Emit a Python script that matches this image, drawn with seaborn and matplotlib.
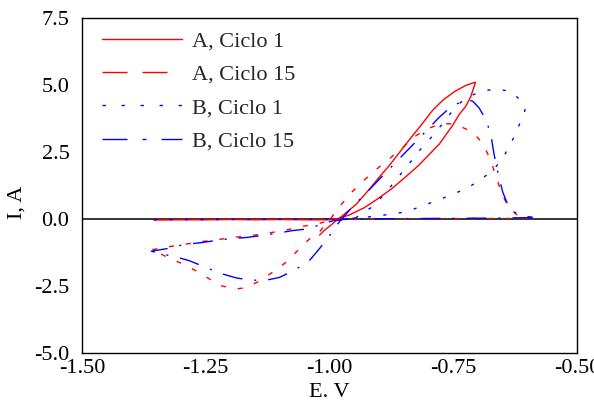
import numpy as np
import pandas as pd
import matplotlib
matplotlib.use("Agg")
import matplotlib.pyplot as plt
from matplotlib.lines import Line2D
from matplotlib.ticker import MultipleLocator, FormatStrFormatter
import seaborn as sns

# ---- data ----
series_names = ["A, Ciclo 1", "A, Ciclo 15", "B, Ciclo 1", "B, Ciclo 15"]

a1_E = [-1.355, -1.30, -1.25, -1.20, -1.15, -1.10, -1.05, -1.00, -0.98, -0.96, -0.93,
        -0.906, -0.875, -0.845, -0.82, -0.798, -0.778, -0.751, -0.738, -0.725, -0.715,
        -0.705, -0.708, -0.725, -0.746, -0.77, -0.792, -0.815, -0.839, -0.86, -0.879,
        -0.90, -0.92, -0.946, -0.97, -0.994, -1.01, -1.02]
a1_I = [-0.04, -0.03, -0.03, -0.02, -0.03, -0.02, -0.03, -0.03, 0.03, 0.15, 0.42,
        0.71, 1.12, 1.59, 2.0, 2.42, 2.8, 3.5, 3.9, 4.2, 4.55,
        5.10, 5.09, 4.98, 4.77, 4.45, 4.05, 3.5, 2.95, 2.45, 2.0,
        1.55, 1.1, 0.55, 0.18, -0.18, -0.42, -0.60]

a15_E = [-0.60, -0.70, -0.80, -0.90, -0.97, -1.00, -1.007, -1.03, -1.06, -1.089, -1.122,
         -1.151, -1.19, -1.231, -1.265, -1.294, -1.33, -1.36, -1.349, -1.33, -1.302,
         -1.272, -1.245, -1.22, -1.198, -1.185, -1.171, -1.145, -1.116, -1.089, -1.065,
         -1.042, -1.02, -1.0, -0.98, -0.954, -0.93, -0.906, -0.879, -0.85, -0.83,
         -0.805, -0.775, -0.75, -0.735, -0.72, -0.705, -0.692, -0.676, -0.664, -0.652,
         -0.637, -0.617, -0.605]
a15_I = [0.02, 0.02, 0.01, 0.0, -0.02, -0.05, -0.1, -0.2, -0.29, -0.42, -0.52,
         -0.6, -0.68, -0.78, -0.86, -0.95, -1.05, -1.15, -1.22, -1.41, -1.63,
         -1.91, -2.21, -2.49, -2.57, -2.6, -2.57, -2.35, -2.0, -1.63, -1.19,
         -0.77, -0.47, -0.05, 0.46, 1.02, 1.45, 1.84, 2.25, 2.7, 3.05,
         3.34, 3.56, 3.55, 3.45, 3.32, 3.12, 2.86, 2.27, 1.61, 0.94,
         0.40, 0.09, 0.03]

b1_E = [-1.355, -1.25, -1.15, -1.05, -0.95, -0.935, -0.913, -0.887, -0.866, -0.842, -0.82,
        -0.797, -0.773, -0.755, -0.735, -0.715, -0.694, -0.665, -0.634, -0.615, -0.605,
        -0.607, -0.613, -0.628, -0.646, -0.668, -0.697, -0.722, -0.749, -0.78, -0.812,
        -0.845, -0.872, -0.90, -0.93, -0.96]
b1_I = [-0.02, -0.02, -0.01, -0.01, 0.0, 0.2, 0.46, 0.96, 1.46, 1.99, 2.52,
        2.99, 3.52, 3.95, 4.35, 4.6, 4.75, 4.86, 4.76, 4.45, 4.1,
        3.9, 3.67, 3.03, 2.4, 1.84, 1.44, 1.15, 0.94, 0.71, 0.49,
        0.27, 0.19, 0.12, 0.06, 0.02]

b15_E = [-0.59, -0.70, -0.80, -0.90, -0.96, -0.99, -1.01, -1.02, -1.044, -1.074, -1.115,
         -1.138, -1.168, -1.208, -1.259, -1.296, -1.326, -1.36, -1.349, -1.312, -1.284,
         -1.252, -1.222, -1.188, -1.16, -1.13, -1.101, -1.074, -1.057, -1.04, -1.02,
         -1.0, -0.98, -0.96, -0.925, -0.88, -0.83, -0.778, -0.76, -0.74, -0.722,
         -0.711, -0.698, -0.684, -0.674, -0.668, -0.663, -0.658, -0.65, -0.637, -0.62,
         -0.603, -0.59]
b15_I = [0.05, 0.03, 0.02, 0.01, 0.0, -0.05, -0.16, -0.22, -0.37, -0.43, -0.56,
         -0.62, -0.69, -0.75, -0.88, -0.96, -1.1, -1.2, -1.26, -1.41, -1.55,
         -1.79, -2.02, -2.2, -2.28, -2.29, -2.18, -1.94, -1.75, -1.54, -1.1,
         -0.62, -0.1, 0.32, 0.99, 1.85, 2.8, 3.8, 4.1, 4.32, 4.44,
         4.40, 4.15, 3.71, 3.15, 2.46, 2.0, 1.59, 1.0, 0.40, 0.18,
         0.09, 0.07]

x_ticks = [-1.50, -1.25, -1.00, -0.75, -0.50]
y_ticks = [-5.0, -2.5, 0.0, 2.5, 5.0, 7.5]

# ---- build long table ----
frames = []
for name, E, I in zip(series_names, [a1_E, a15_E, b1_E, b15_E], [a1_I, a15_I, b1_I, b15_I]):
    frames.append(pd.DataFrame({"E": E, "I": I, "serie": name, "order": np.arange(len(E))}))
df = pd.concat(frames, ignore_index=True)

sns.set_theme(style="white")
plt.rcParams["font.family"] = ["Liberation Serif", "DejaVu Serif"]
plt.rcParams["axes.unicode_minus"] = False
plt.rcParams["lines.scale_dashes"] = False

FS = 16
fig = plt.figure(figsize=(5.94, 4.01), dpi=100)
ax = fig.add_axes([82 / 594, 1 - 353 / 401, (577 - 82) / 594, (353 - 18) / 401])

palette = {"A, Ciclo 1": "#ff0000", "A, Ciclo 15": "#ff0000",
           "B, Ciclo 1": "#0000ff", "B, Ciclo 15": "#0000ff"}
dashes = {"A, Ciclo 1": "", "A, Ciclo 15": (3.6, 8.6),
          "B, Ciclo 1": (2.2, 9.0), "B, Ciclo 15": (14.4, 8.6, 1.5, 8.6)}

ax.axhline(0, color="black", lw=1.1, zorder=1)
sns.lineplot(data=df, x="E", y="I", hue="serie", style="serie", units="serie",
             sort=False, estimator=None, palette=palette, dashes=dashes,
             linewidth=1.0, legend=False, ax=ax, zorder=2)

ax.set_xlim(-1.5, -0.5)
ax.set_ylim(-5.0, 7.5)
ax.set_xticks(x_ticks)
ax.set_yticks(y_ticks)
ax.xaxis.set_minor_locator(MultipleLocator(0.125))
ax.yaxis.set_minor_locator(MultipleLocator(1.25))
ax.xaxis.set_major_formatter(FormatStrFormatter("%.2f"))
ax.yaxis.set_major_formatter(FormatStrFormatter("%.1f"))
ax.tick_params(which="both", direction="in", length=4, width=0.9, color="black",
               top=False, right=False, labelsize=FS, labelcolor="black")
ax.tick_params(axis="x", which="major", pad=4)
ax.tick_params(axis="y", which="major", pad=9)
for sp in ax.spines.values():
    sp.set_visible(True)
    sp.set_color("black")
    sp.set_linewidth(1.0)

ax.set_xlabel("E. V", fontsize=FS, color="black", labelpad=4)
ax.set_ylabel("I, A", fontsize=FS, color="black")
ax.yaxis.set_label_coords(-0.113, 0.45)

handles = [
    Line2D([], [], color="#ff0000", lw=1.0, linestyle="-"),
    Line2D([], [], color="#ff0000", lw=1.0, dashes=(18, 10.8)),
    Line2D([], [], color="#0000ff", lw=1.0, dashes=(2.4, 11.3)),
    Line2D([], [], color="#0000ff", lw=1.0, dashes=(18, 10.8, 2.9, 10.8)),
]
ax.legend(handles, series_names, loc="upper left", bbox_to_anchor=(0.040, 0.962),
          frameon=False, fontsize=FS, handlelength=3.6, handletextpad=0.45,
          labelspacing=0.58, borderpad=0, borderaxespad=0)

fig.savefig("out.png", dpi=100)
